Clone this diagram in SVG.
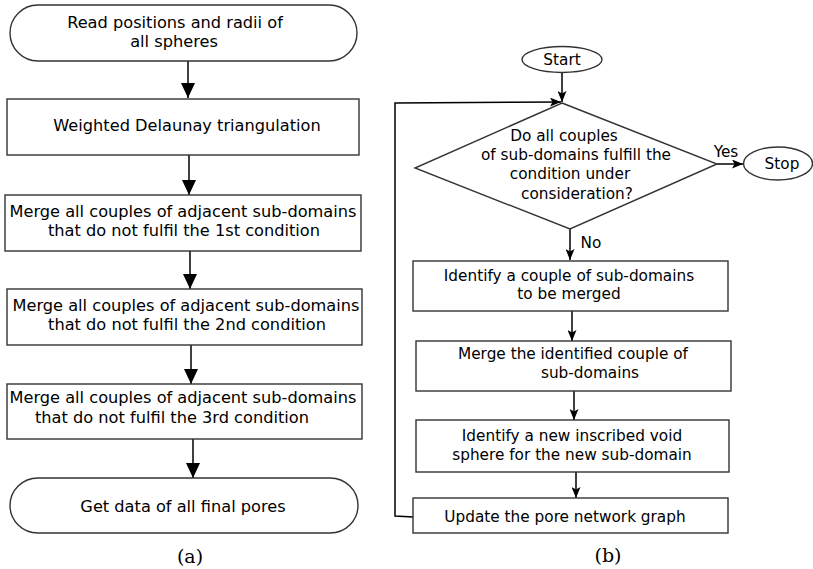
<svg xmlns="http://www.w3.org/2000/svg" width="813" height="569" viewBox="0 0 813 569">
<style>
.box{fill:#fff;stroke:#333;stroke-width:1.4}
.t{font-family:"DejaVu Sans",sans-serif;font-size:16.2px;fill:#000;text-anchor:middle}
.tr{font-family:"DejaVu Sans",sans-serif;font-size:15.3px;fill:#000;text-anchor:middle}
.cap{font-family:"DejaVu Serif","Liberation Serif",serif;font-size:19px;fill:#000;text-anchor:middle}
.ln{fill:none;stroke:#000;stroke-width:1.5}
.la{marker-end:url(#big)}
.ra{marker-end:url(#small)}
</style>
<defs>
<marker id="big" markerUnits="userSpaceOnUse" markerWidth="15" markerHeight="14" refX="15" refY="7" orient="auto">
<path d="M0,0 L15,7 L0,14 z" fill="#000"/>
</marker>
<marker id="small" markerUnits="userSpaceOnUse" markerWidth="11" markerHeight="9" refX="11" refY="4.5" orient="auto">
<path d="M0,0 L11,4.5 L0,9 L2.5,4.5 z" fill="#000"/>
</marker>
</defs>

<g id="connectors">
<line class="ln la" x1="188" y1="61" x2="188" y2="98"/>
<line class="ln la" x1="189" y1="155" x2="189" y2="195"/>
<line class="ln la" x1="190" y1="251" x2="190" y2="289"/>
<line class="ln la" x1="191" y1="345" x2="191" y2="384"/>
<line class="ln la" x1="193" y1="439" x2="193" y2="478"/>
<line class="ln ra" x1="562" y1="72" x2="562" y2="102"/>
<path class="ln ra" d="M413,517 L395,516 L395,103 L561,102"/>
<line class="ln ra" x1="717" y1="164" x2="743" y2="164"/>
<line class="ln ra" x1="570" y1="229" x2="570" y2="260"/>
<line class="ln ra" x1="572" y1="311" x2="572" y2="341"/>
<line class="ln ra" x1="574" y1="391" x2="574" y2="420"/>
<line class="ln ra" x1="576" y1="472" x2="576" y2="498"/>
<text class="tr" x="726" y="157">Yes</text>
<text class="tr" x="591" y="248">No</text>
</g>

<g id="read">
<rect class="box" x="10" y="5" width="347" height="56" rx="28" ry="28"/>
<text class="t" x="175" y="28">Read positions and radii of</text>
<text class="t" x="174" y="47">all spheres</text>
</g>
<g id="delaunay">
<rect class="box" x="7" y="99" width="352" height="56"/>
<text class="t" x="187" y="131">Weighted Delaunay triangulation</text>
</g>
<g id="merge1">
<rect class="box" x="5" y="195" width="356" height="56"/>
<text class="t" x="183" y="217">Merge all couples of adjacent sub-domains</text>
<text class="t" x="184" y="236">that do not fulfil the 1st condition</text>
</g>
<g id="merge2">
<rect class="box" x="7" y="289" width="355" height="56"/>
<text class="t" x="186" y="311">Merge all couples of adjacent sub-domains</text>
<text class="t" x="187" y="330">that do not fulfil the 2nd condition</text>
</g>
<g id="merge3">
<rect class="box" x="7" y="384" width="355" height="55"/>
<text class="t" x="183" y="403">Merge all couples of adjacent sub-domains</text>
<text class="t" x="172" y="423">that do not fulfil the 3rd condition</text>
</g>
<g id="getdata">
<rect class="box" x="10" y="478" width="348" height="55" rx="28" ry="27.5"/>
<text class="t" x="183" y="512">Get data of all final pores</text>
</g>
<text class="cap" x="190" y="563">(a)</text>

<g id="start">
<ellipse class="box" cx="562" cy="59.5" rx="40" ry="13"/>
<text class="tr" x="562" y="65">Start</text>
</g>
<g id="decision">
<path class="box" d="M562,103 L717,164 L570,229 L415,168 z"/>
<text class="tr" x="564" y="141">Do all couples</text>
<text class="tr" x="576" y="160">of sub-domains fulfill the</text>
<text class="tr" x="570" y="179">condition under</text>
<text class="tr" x="577" y="199">consideration?</text>
</g>
<g id="stop">
<ellipse class="box" cx="778" cy="163.5" rx="34.5" ry="16.5"/>
<text class="tr" x="782" y="169">Stop</text>
</g>
<g id="identify">
<rect class="box" x="413" y="261" width="315" height="50"/>
<text class="tr" x="569" y="281">Identify a couple of sub-domains</text>
<text class="tr" x="569" y="299">to be merged</text>
</g>
<g id="mergeid">
<rect class="box" x="416" y="341" width="315" height="50"/>
<text class="tr" x="573" y="359">Merge the identified couple of</text>
<text class="tr" x="590" y="378">sub-domains</text>
</g>
<g id="newsphere">
<rect class="box" x="416" y="420" width="313" height="52"/>
<text class="tr" x="572" y="441">Identify a new inscribed void</text>
<text class="tr" x="572" y="460">sphere for the new sub-domain</text>
</g>
<g id="update">
<rect class="box" x="413" y="498" width="315" height="35"/>
<text class="tr" x="565" y="522">Update the pore network graph</text>
</g>
<text class="cap" x="608" y="562">(b)</text>
</svg>
